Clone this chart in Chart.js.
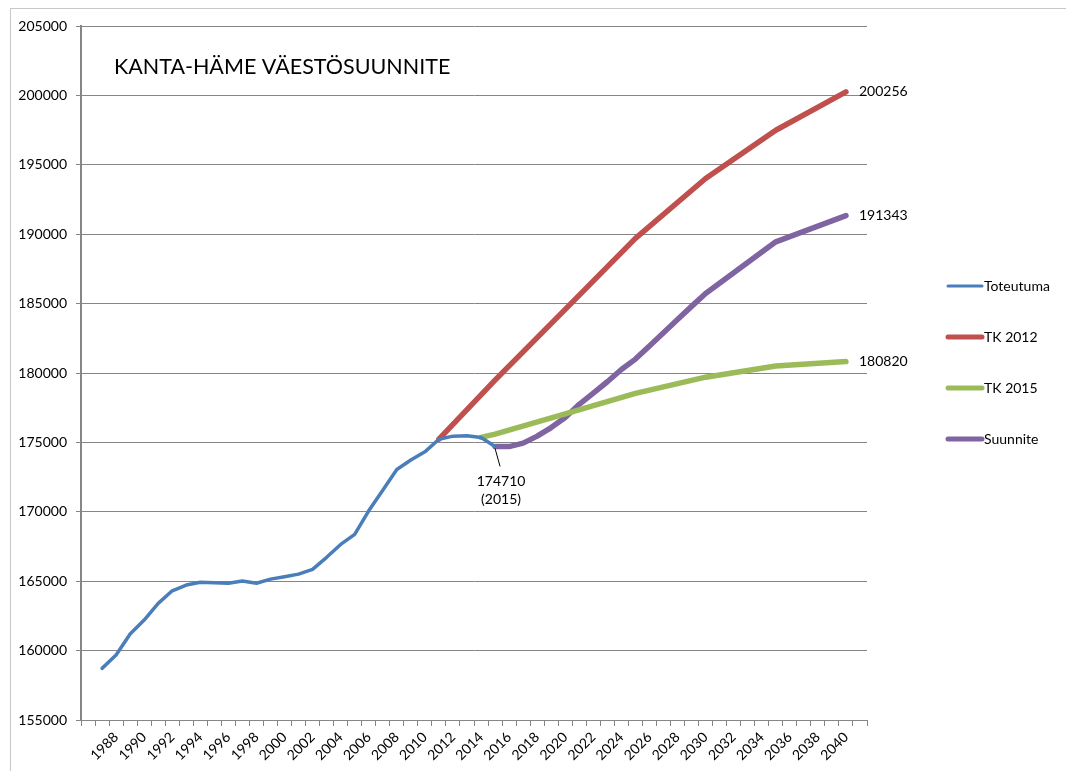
<!DOCTYPE html>
<html>
<head>
<meta charset="utf-8">
<script src="https://cdn.jsdelivr.net/npm/chart.js@4"></script>
<style>
  html, body { margin: 0; padding: 0; background: #fff; }
  canvas { display: block; }
</style>
</head>
<body>
<canvas id="chart" width="1066" height="771"></canvas>
<script>
// vuodet (1986 tyhjä luokka alussa, 2041 lopussa)
const years = [1986, 1987, 1988, 1989, 1990, 1991, 1992, 1993, 1994, 1995,
  1996, 1997, 1998, 1999, 2000, 2001, 2002, 2003, 2004, 2005,
  2006, 2007, 2008, 2009, 2010, 2011, 2012, 2013, 2014, 2015,
  2016, 2017, 2018, 2019, 2020, 2021, 2022, 2023, 2024, 2025,
  2026, 2027, 2028, 2029, 2030, 2031, 2032, 2033, 2034, 2035,
  2036, 2037, 2038, 2039, 2040, 2041];

const toteutuma = [null, 158720, 159680, 161190, 162200, 163400, 164310, 164720, 164920, 164890,
  164850, 165010, 164850, 165150, 165320, 165510, 165850, 166720, 167650, 168370,
  170070, 171560, 173050, 173730, 174320, 175230, 175450, 175480, 175360, 174710];

// ennusteet: vain tunnetut vuodet, välit yhdistetään viivalla
const tk2012 = {2011: 175230, 2015: 179480, 2020: 184580, 2025: 189700, 2030: 194015, 2035: 197490, 2040: 200256};
const tk2015 = {2014: 175360, 2015: 175600, 2020: 177050, 2025: 178530, 2030: 179700, 2035: 180500, 2040: 180820};
const suunnite = {2015: 174710, 2016: 174700, 2017: 174950, 2018: 175450, 2019: 176070, 2020: 176790,
  2021: 177740, 2022: 178550, 2023: 179370, 2024: 180250, 2025: 181000,
  2026: 181950, 2027: 182900, 2028: 183850, 2029: 184800, 2030: 185730, 2035: 189450, 2040: 191343};

const seriesNames = ['Toteutuma', 'TK 2012', 'TK 2015', 'Suunnite'];
const seriesColors = ['#4a7ebb', '#c0504d', '#9bbb59', '#8064a2'];
const endLabels = ['200256', '191343', '180820'];

const FONT = 'Lato, "Open Sans", sans-serif';

function toSeries(obj) {
  return years.map(y => (obj[y] !== undefined ? obj[y] : null));
}

const extras = {
  id: 'extras',
  beforeDraw(chart) {
    const c = chart.ctx;
    c.save();
    c.fillStyle = '#fff';
    c.fillRect(0, 0, chart.width, chart.height);
    c.strokeStyle = '#c8c8c8';
    c.lineWidth = 1;
    c.strokeRect(10.5, 8.5, chart.width + 20, chart.height + 20);
    c.restore();
  },
  afterDraw(chart) {
    const c = chart.ctx;
    const area = chart.chartArea;
    c.save();
    c.fillStyle = '#000';

    // otsikko
    c.font = '21.5px ' + FONT;
    c.textBaseline = 'middle';
    c.textAlign = 'left';
    c.fillText('KANTA-HÄME VÄESTÖSUUNNITE', area.left + 33, 67);

    // loppuarvot
    c.font = '14px ' + FONT;
    [1, 3, 2].forEach((di, k) => {
      const pts = chart.getDatasetMeta(di).data;
      const p = pts[pts.length - 2];
      c.fillText(endLabels[k], p.x + 13, p.y);
    });

    // 2015 merkintä
    const sp = chart.getDatasetMeta(3).data[years.indexOf(2015)];
    c.strokeStyle = '#000';
    c.lineWidth = 1;
    c.beginPath();
    c.moveTo(sp.x, sp.y + 2);
    c.lineTo(sp.x + 5, sp.y + 20);
    c.stroke();
    c.textAlign = 'center';
    c.fillText('174710', sp.x + 6, sp.y + 35);
    c.fillText('(2015)', sp.x + 6, sp.y + 53);

    // selite
    c.textAlign = 'left';
    c.lineCap = 'round';
    seriesNames.forEach((name, i) => {
      const y = 286 + i * 51;
      const x0 = area.right + 81;
      c.strokeStyle = seriesColors[i];
      c.lineWidth = i === 0 ? 3 : 5;
      c.beginPath();
      c.moveTo(x0, y);
      c.lineTo(x0 + 34, y);
      c.stroke();
      c.fillStyle = '#000';
      c.fillText(name, x0 + 36, y);
    });
    c.restore();
  }
};

const ctx = document.getElementById('chart').getContext('2d');

new Chart(ctx, {
  type: 'line',
  data: {
    labels: years,
    datasets: [
      { label: seriesNames[0], data: toteutuma, borderColor: seriesColors[0], borderWidth: 3.5 },
      { label: seriesNames[1], data: toSeries(tk2012), borderColor: seriesColors[1], borderWidth: 5.5 },
      { label: seriesNames[2], data: toSeries(tk2015), borderColor: seriesColors[2], borderWidth: 5.5 },
      { label: seriesNames[3], data: toSeries(suunnite), borderColor: seriesColors[3], borderWidth: 5.5 }
    ]
  },
  options: {
    responsive: false,
    animation: false,
    spanGaps: true,
    elements: {
      point: { radius: 0 },
      line: { tension: 0, borderCapStyle: 'round', borderJoinStyle: 'round' }
    },
    layout: { padding: { left: 0, right: 199, top: 26, bottom: 0 } },
    plugins: {
      legend: { display: false },
      tooltip: { enabled: false }
    },
    scales: {
      x: {
        offset: true,
        afterFit: function(scale) { scale.height = 51; },
        grid: { offset: true, drawOnChartArea: false, drawTicks: true, tickLength: 6, color: '#868686' },
        border: { color: '#868686', width: 1 },
        ticks: {
          autoSkip: false,
          maxRotation: 45,
          minRotation: 45,
          padding: 3,
          color: '#000',
          font: { family: FONT, size: 14 },
          callback: function(val, idx) {
            const y = years[idx];
            return (y % 2 === 0 && y !== 1986) ? String(y) : '';
          }
        }
      },
      y: {
        min: 155000,
        max: 205000,
        afterFit: function(scale) { scale.width = 81; },
        grid: { color: '#868686', tickLength: 5 },
        border: { color: '#868686', width: 2 },
        ticks: {
          stepSize: 5000,
          padding: 9,
          color: '#000',
          font: { family: FONT, size: 14 },
          callback: function(v) { return String(v); }
        }
      }
    }
  },
  plugins: [extras]
});
</script>
</body>
</html>
